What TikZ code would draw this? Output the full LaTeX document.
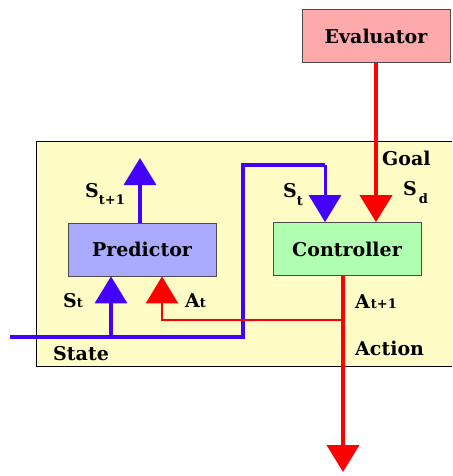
\documentclass[tikz,border=0pt]{standalone}
\usepackage{fontspec}
\setmainfont{DejaVu Serif}
\usetikzlibrary{arrows.meta}
\definecolor{panel}{HTML}{FFFCC6}
\definecolor{predfill}{HTML}{AAAAFF}
\definecolor{ctrlfill}{HTML}{B0FFB0}
\definecolor{evalfill}{HTML}{FFAAAA}
\definecolor{bl}{HTML}{4400FF}
\definecolor{rd}{HTML}{FF0000}
\newcommand\smtxt[1]{{\fontsize{13}{13}\selectfont #1}}
\tikzset{
 box/.style={draw=black!70, line width=0.8pt, minimum width=148pt, minimum height=53pt, inner sep=0pt, font=\fontsize{19}{23}\selectfont\bfseries},
 lbl/.style={anchor=base west, inner sep=0pt, font=\fontsize{19}{23}\selectfont\bfseries},
 bluewire/.style={draw=bl, line width=3.5pt},
 bluethin/.style={draw=bl, line width=3pt},
 redwire/.style={draw=rd, line width=4pt},
 redthin/.style={draw=rd, line width=2.5pt},
 head/.style={-{Triangle[width=32pt,length=27pt]}},
}
\begin{document}
\begin{tikzpicture}[x=1pt,y=-1pt]
\useasboundingbox (0,0) rectangle (452,476);
% panel
\fill[panel] (36,141) rectangle (452,366);
\draw[black, line width=0.8pt] (452,141) -- (36,141) -- (36,366) -- (452,366);
% boxes
\node[box, fill=evalfill] (eval) at (376,36) {Evaluator};
\node[box, fill=predfill] (pred) at (142,249.5) {Predictor};
\node[box, fill=ctrlfill] (ctrl) at (347,249) {Controller};
% coordinates
\coordinate (statein) at (10,337);
\coordinate (bturn1) at (243,337);
\coordinate (bturn2) at (243,165);
\coordinate (bturn3) at (325,165);
\coordinate (bsplit) at (111,337);
\coordinate (predout) at (140,158);
\coordinate (rsplit) at (343,320);
\coordinate (rturn) at (162,320);
\coordinate (actout) at (343,472);
% blue state line
\draw[bluewire] (statein) -- (bturn1) -- (bturn2) -- (bturn3);
\draw[bluethin, head] (bturn3) -- (bturn3 |- ctrl.north);
\draw[bluewire, head] (bsplit) -- (bsplit |- pred.south);
\draw[bluewire, head] (pred.north -| predout) -- (predout);
% red lines
\draw[redwire, head] (eval.south) -- (ctrl.north -| eval.south);
\draw[redwire, head] (ctrl.south -| actout) -- (actout);
\draw[redthin, head] (rsplit) -- (rturn) -- (rturn |- pred.south);
% labels
\node[lbl] (lstp1) at (85,197) {S\raisebox{-7pt}{\smtxt{t+1}}};
\node[lbl] (lst1) at (63,307) {S\smtxt{t}};
\node[lbl] (lat) at (185,307) {A\smtxt{t}};
\node[lbl] (lst2) at (283,197) {S\raisebox{-8pt}{\smtxt{t}}};
\node[lbl] (lgoal) at (382,165) {Goal};
\node[lbl] (lsd) at (403,195) {S\hspace{2pt}\raisebox{-8pt}{\smtxt{d}}};
\node[lbl] (lat1) at (355,308) {A\hspace{1pt}\smtxt{t+1}};
\node[lbl] (lact) at (355,355) {Action};
\node[lbl] (lstate) at (53,360) {State};
\end{tikzpicture}
\end{document}
